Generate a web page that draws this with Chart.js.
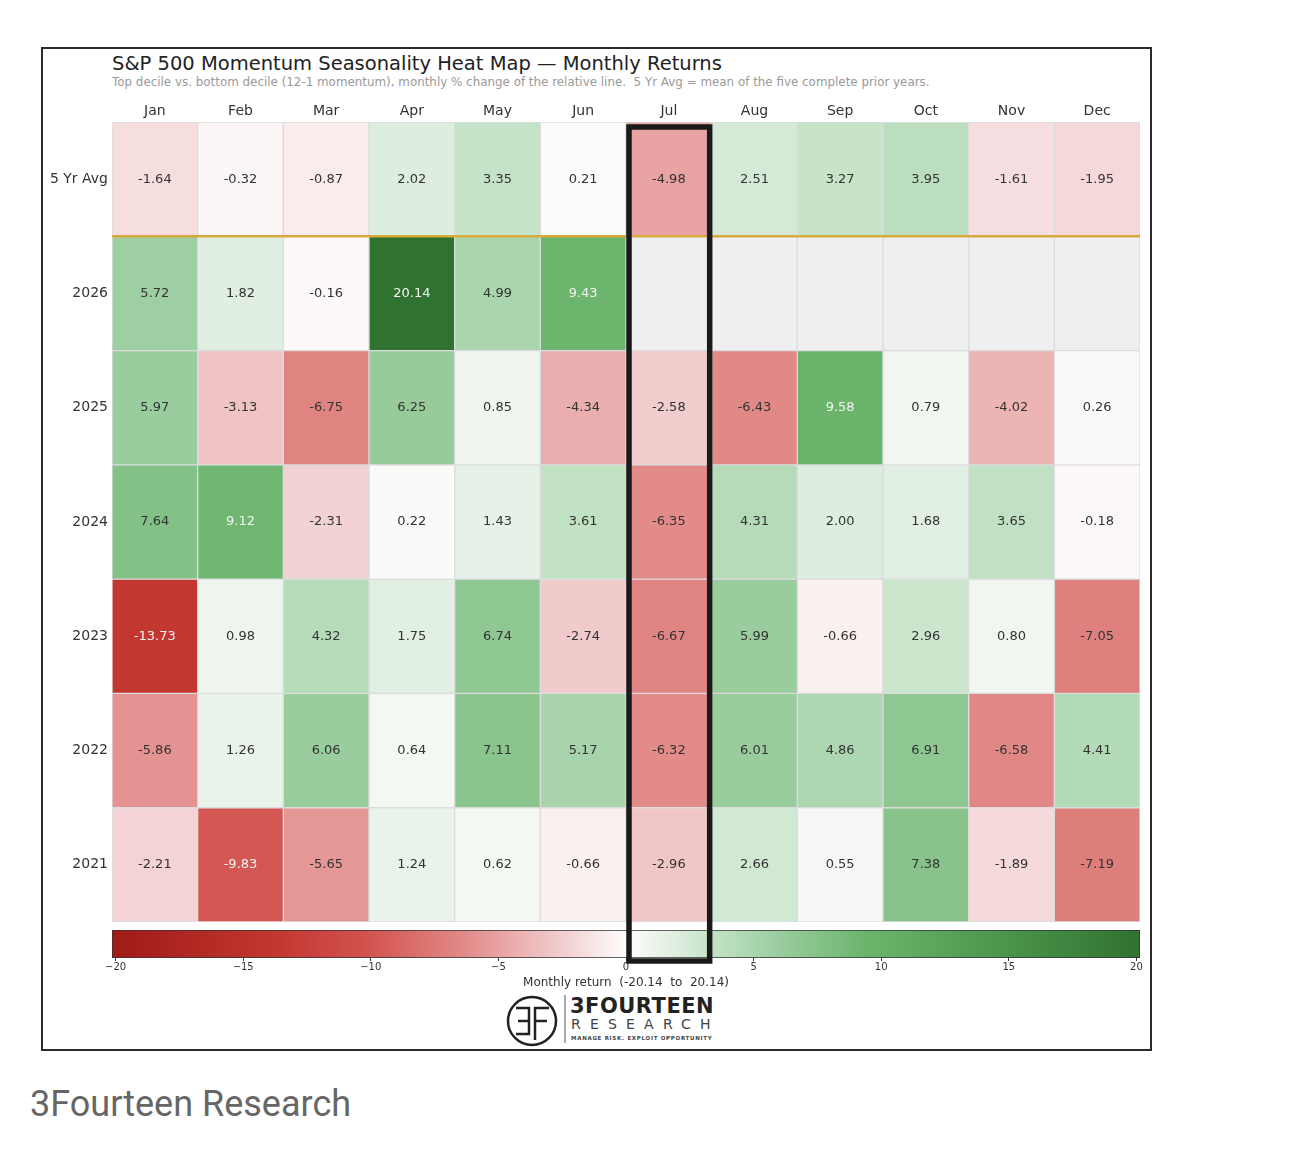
<!DOCTYPE html>
<html>
<head>
<meta charset="UTF-8">
<title>S&P 500 Momentum Seasonality Heat Map</title>
<script src="https://cdn.jsdelivr.net/npm/chart.js@4.4.0/dist/chart.umd.min.js"></script>
<style>
  body { margin: 0; background: #fff; width: 1290px; height: 1169px; position: relative; overflow: hidden; font-family: "DejaVu Sans", sans-serif; }
  #frame { position: absolute; left: 41px; top: 47px; width: 1107px; height: 1000px; border: 2px solid #2b2b2b; }
  #title { position: absolute; left: 112px; top: 52px; font-size: 19.5px; color: #222; white-space: pre; }
  #subtitle { position: absolute; left: 112px; top: 75px; font-size: 11.9px; color: #9a9a9a; white-space: pre; }
  canvas { position: absolute; left: 0; }
  #heat { top: 92px; z-index: 2; }
  #cbar { top: 920px; z-index: 1; }
  #logoText1 { position: absolute; left: 570px; top: 994px; font-size: 21px; font-weight: bold; color: #222; letter-spacing: 0.5px; }
  #logoText2 { position: absolute; left: 571px; top: 1016px; font-size: 14px; color: #444; letter-spacing: 9.2px; }
  #logoText3 { position: absolute; left: 571px; top: 1035px; font-size: 5.5px; font-weight: bold; color: #444; letter-spacing: 0.7px; }
  #logo { position: absolute; left: 0; top: 0; z-index: 3; }
  #caption { position: absolute; left: 30px; top: 1083px; font-family: Roboto, sans-serif; font-size: 36px; color: #666; white-space: nowrap; }
</style>
</head>
<body>
<div id="frame"></div>
<div id="title">S&amp;P 500 Momentum Seasonality Heat Map — Monthly Returns</div>
<div id="subtitle">Top decile vs. bottom decile (12-1 momentum), monthly % change of the relative line.  5 Yr Avg = mean of the five complete prior years.</div>
<canvas id="heat" width="1160" height="875"></canvas>
<canvas id="cbar" width="1160" height="70"></canvas>
<svg id="logo" width="1290" height="1169">
  <circle cx="532" cy="1021" r="24" fill="none" stroke="#222" stroke-width="2.5"/>
  <path d="M516 1008 H529 V1034 H516 M518 1021 H529 M535 1040 V1008 H549 M535 1021 H547" fill="none" stroke="#222" stroke-width="2.5"/>
  <line x1="565" y1="995" x2="565" y2="1043" stroke="#555" stroke-width="1"/>
</svg>
<div id="logoText1">3FOURTEEN</div>
<div id="logoText2">RESEARCH</div>
<div id="logoText3">MANAGE RISK. EXPLOIT OPPORTUNITY</div>
<div id="caption">3Fourteen Research</div>

<script type="text/javascript">
  var months = ["Jan", "Feb", "Mar", "Apr", "May", "Jun", "Jul", "Aug", "Sep", "Oct", "Nov", "Dec"];
  var rowLabels = ["5 Yr Avg", "2026", "2025", "2024", "2023", "2022", "2021"];

  var avg5  = [-1.64, -0.32, -0.87, 2.02, 3.35, 0.21, -4.98, 2.51, 3.27, 3.95, -1.61, -1.95];
  var y2026 = [5.72, 1.82, -0.16, 20.14, 4.99, 9.43, null, null, null, null, null, null];
  var y2025 = [5.97, -3.13, -6.75, 6.25, 0.85, -4.34, -2.58, -6.43, 9.58, 0.79, -4.02, 0.26];
  var y2024 = [7.64, 9.12, -2.31, 0.22, 1.43, 3.61, -6.35, 4.31, 2.00, 1.68, 3.65, -0.18];
  var y2023 = [-13.73, 0.98, 4.32, 1.75, 6.74, -2.74, -6.67, 5.99, -0.66, 2.96, 0.80, -7.05];
  var y2022 = [-5.86, 1.26, 6.06, 0.64, 7.11, 5.17, -6.32, 6.01, 4.86, 6.91, -6.58, 4.41];
  var y2021 = [-2.21, -9.83, -5.65, 1.24, 0.62, -0.66, -2.96, 2.66, 0.55, 7.38, -1.89, -7.19];
  var rows = [avg5, y2026, y2025, y2024, y2023, y2022, y2021];

  var cbarTicks = [-20, -15, -10, -5, 0, 5, 10, 15, 20];
  var vmax = 20.14;
  var highlightMonth = 6; // Jul

  // red - white - green colour map, picked off the colour bar
  var cmap = [
    [-20.14, [160, 26, 22]],
    [-13.5, [196, 56, 50]],
    [-10, [212, 84, 80]],
    [-6.5, [225, 136, 134]],
    [-4, [237, 180, 180]],
    [-2, [244, 215, 217]],
    [0, [254, 252, 252]],
    [2, [221, 238, 222]],
    [4, [186, 222, 189]],
    [6, [154, 205, 158]],
    [9.5, [106, 180, 108]],
    [14, [80, 154, 80]],
    [20.14, [48, 114, 48]]
  ];

  var colorFor = function(v) {
    if (v === null) return "#efeff2";
    for (var i = 1; i < cmap.length; i++) {
      if (v <= cmap[i][0]) {
        var a = cmap[i - 1], b = cmap[i];
        var t = (v - a[0]) / (b[0] - a[0]);
        var c = a[1].map(function(x, k) { return Math.round(x + (b[1][k] - x) * t); });
        return "rgb(" + c.join(",") + ")";
      }
    }
    return "rgb(" + cmap[cmap.length - 1][1].join(",") + ")";
  };

  var datasets = rows.map(function(vals, i) {
    return {
      label: rowLabels[i],
      data: months.map(function() { return [i, i + 1]; }),
      values: vals,
      backgroundColor: vals.map(colorFor),
      borderColor: "#dcdcdf",
      borderWidth: 1,
      borderSkipped: false,
      barPercentage: 1,
      categoryPercentage: 1,
      grouped: false
    };
  });

  var cellText = {
    id: "cellText",
    afterDatasetsDraw: function(chart) {
      var ctx = chart.ctx;
      ctx.save();
      ctx.font = "13px 'DejaVu Sans'";
      ctx.textAlign = "center";
      ctx.textBaseline = "middle";
      chart.data.datasets.forEach(function(ds, i) {
        chart.getDatasetMeta(i).data.forEach(function(el, j) {
          var v = ds.values[j];
          if (v === null) return;
          var p = el.getCenterPoint();
          ctx.fillStyle = Math.abs(v) > 9 ? "#f4f4f4" : "#333";
          ctx.fillText(v.toFixed(2), p.x, p.y);
        });
      });
      // gold separator under the average row
      var a = chart.chartArea;
      var ySep = chart.scales.y.getPixelForValue(1);
      ctx.strokeStyle = "#d8a93c";
      ctx.lineWidth = 2.5;
      ctx.beginPath();
      ctx.moveTo(a.left, ySep);
      ctx.lineTo(a.right, ySep);
      ctx.stroke();
      ctx.restore();
    },
    afterDraw: function(chart) {
      var ctx = chart.ctx, a = chart.chartArea;
      var cw = (a.right - a.left) / months.length;
      var cx = chart.scales.x.getPixelForValue(highlightMonth);
      ctx.save();
      ctx.strokeStyle = "#1a1a1a";
      ctx.lineWidth = 5.5;
      ctx.strokeRect(cx - cw / 2 + 3, a.top + 5, cw - 5, 834);
      ctx.restore();
    }
  };

  new Chart(document.getElementById("heat").getContext("2d"), {
    type: "bar",
    data: { labels: months, datasets: datasets },
    options: {
      responsive: false,
      animation: false,
      layout: { padding: { right: 20, bottom: 45 } },
      plugins: { legend: { display: false }, tooltip: { enabled: false } },
      scales: {
        x: {
          position: "top",
          grid: { display: false, tickLength: 0 },
          border: { display: false },
          ticks: { color: "#333", font: { family: "DejaVu Sans", size: 14 }, padding: 2 },
          afterFit: function(s) { s.height = 30; }
        },
        y: {
          type: "linear",
          min: 0,
          max: 7,
          reverse: true,
          grid: { display: false, tickLength: 0 },
          border: { display: false },
          afterBuildTicks: function(s) {
            s.ticks = rowLabels.map(function(_, i) { return { value: i + 0.5 }; });
          },
          ticks: {
            color: "#333",
            font: { family: "DejaVu Sans", size: 14 },
            padding: 4,
            callback: function(v, idx) { return rowLabels[idx]; }
          },
          afterFit: function(s) { s.width = 112; }
        }
      }
    },
    plugins: [cellText]
  });

  new Chart(document.getElementById("cbar").getContext("2d"), {
    type: "bar",
    data: {
      labels: ["range"],
      datasets: [{
        data: [[-vmax, vmax]],
        backgroundColor: function(c) {
          var a = c.chart.chartArea;
          if (!a) return null;
          var g = c.chart.ctx.createLinearGradient(a.left, 0, a.right, 0);
          cmap.forEach(function(s) {
            g.addColorStop((s[0] + vmax) / (2 * vmax), "rgb(" + s[1].join(",") + ")");
          });
          return g;
        },
        borderColor: "#333",
        borderWidth: 1,
        borderSkipped: false,
        barPercentage: 1,
        categoryPercentage: 1
      }]
    },
    options: {
      indexAxis: "y",
      responsive: false,
      animation: false,
      layout: { padding: { left: 112, right: 20, top: 10 } },
      plugins: { legend: { display: false }, tooltip: { enabled: false } },
      scales: {
        y: { display: false },
        x: {
          type: "linear",
          min: -vmax,
          max: vmax,
          afterBuildTicks: function(s) {
            s.ticks = cbarTicks.map(function(v) { return { value: v }; });
          },
          grid: { drawOnChartArea: false, drawTicks: true, tickLength: 3, color: "#333" },
          border: { display: false },
          ticks: {
            color: "#333",
            font: { family: "DejaVu Sans", size: 10 },
            padding: 0,
            maxRotation: 0,
            callback: function(v) { return v < 0 ? "\u2212" + Math.abs(v) : String(v); }
          },
          title: {
            display: true,
            text: "Monthly return  (-20.14  to  20.14)",
            color: "#333",
            font: { family: "DejaVu Sans", size: 12 },
            padding: { top: 1, bottom: 0 }
          },
          afterFit: function(s) { s.height = 32; }
        }
      }
    }
  });
</script>
</body>
</html>
